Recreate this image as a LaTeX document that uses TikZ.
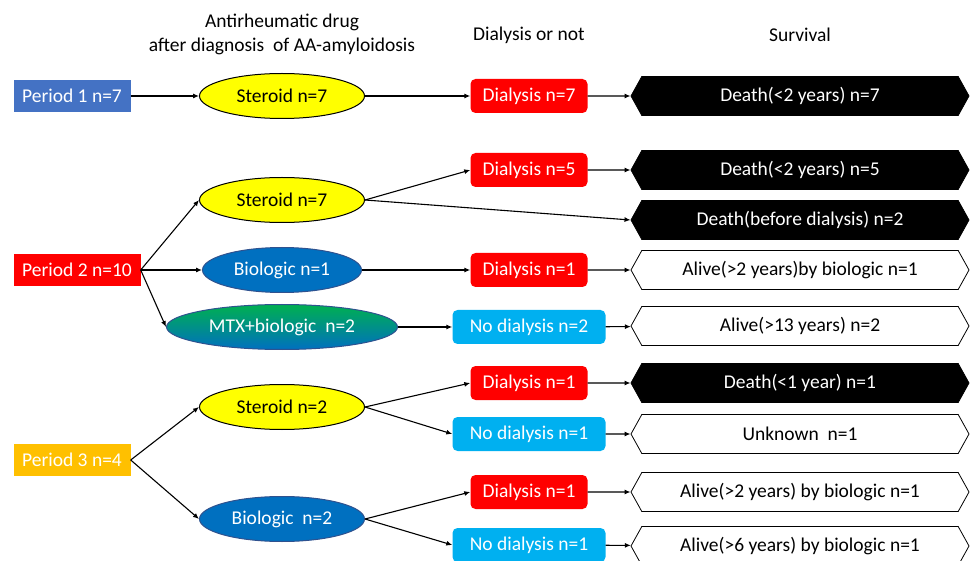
\documentclass[tikz,border=0pt]{standalone}
\usepackage{fontspec}
\setmainfont{Carlito}
\usetikzlibrary{shapes.geometric,shapes.symbols,arrows.meta}
\definecolor{pblue}{HTML}{4472C4}
\definecolor{dred}{HTML}{FF0000}
\definecolor{dyel}{HTML}{FFFF00}
\definecolor{bblue}{HTML}{0070C0}
\definecolor{bline}{HTML}{2F528F}
\definecolor{cyanb}{HTML}{00B0F0}
\definecolor{porange}{HTML}{FFC000}
\definecolor{mgreen}{HTML}{00B050}
\begin{document}
\begin{tikzpicture}[x=1pt,y=-1pt,
  font=\fontsize{19.5}{24}\selectfont,
  period/.style={rectangle, minimum width=117pt, minimum height=32pt, text=white, inner sep=2pt},
  drug/.style={ellipse, minimum width=165pt, minimum height=45pt, draw, line width=1pt, inner sep=0pt},
  biol/.style={drug, fill=bblue, draw=bline, text=white},
  dial/.style={rectangle, rounded corners=5pt, minimum width=117pt, minimum height=34pt, text=white, fill=dred, inner sep=2pt},
  nodial/.style={dial, fill=cyanb, minimum width=153pt},
  surv/.style={signal, signal to=west and east, signal pointer angle=122, minimum width=338pt, minimum height=39pt, draw, line width=0.8pt, inner sep=2pt},
  dead/.style={surv, fill=black, text=white},
  alive/.style={surv, fill=white, text=black},
  arr/.style={-{Latex[length=6pt,width=5pt]}, line width=1.1pt}]
\useasboundingbox (0,0) rectangle (972,561);

% headers
\node[align=center] (h1) at (282,34) {Antirheumatic drug\\after diagnosis~ of AA-amyloidosis};
\node (h2) at (529,35) {Dialysis or not};
\node (h3) at (800,35) {Survival};

% Period 1
\node[period, fill=pblue] (p1) at (72,96) {Period 1 n=7};
\node[drug, fill=dyel] (s1) at (282,96) {Steroid n=7};
\node[dial] (d1) at (529,96) {Dialysis n=7};
\node[dead] (v1) at (800,96) {Death(<2 years) n=7};

% Period 2
\node[period, fill=dred, minimum width=127pt] (p2) at (77,270) {Period 2 n=10};
\node[drug, fill=dyel] (s2) at (282,200) {Steroid n=7};
\node[biol, minimum width=159pt] (b2) at (282,270) {Biologic n=1};
\node[drug, minimum width=231pt, top color=mgreen, bottom color=bblue, draw=bline, text=white] (m2) at (282,327) {MTX+biologic~ n=2};
\node[dial] (d2a) at (529,170) {Dialysis n=5};
\node[dial] (d2b) at (529,270) {Dialysis n=1};
\node[nodial] (n2) at (529,327) {No dialysis n=2};
\node[dead] (v2a) at (800,170) {Death(<2 years) n=5};
\node[dead] (v2b) at (800,220) {Death(before dialysis) n=2};
\node[alive] (v2c) at (800,270) {Alive(>2 years)by biologic n=1};
\node[alive] (v2d) at (800,326) {Alive(>13 years) n=2};

% Period 3
\node[period, fill=porange] (p3) at (72,460) {Period 3 n=4};
\node[drug, fill=dyel] (s3) at (282,407) {Steroid n=2};
\node[biol] (b3) at (282,519) {Biologic~ n=2};
\node[dial] (d3a) at (529,383) {Dialysis n=1};
\node[nodial] (n3a) at (529,434) {No dialysis n=1};
\node[dial] (d3b) at (529,492) {Dialysis n=1};
\node[nodial] (n3b) at (529,545) {No dialysis n=1};
\node[dead] (v3a) at (800,383) {Death(<1 year) n=1};
\node[alive] (v3b) at (800,434) {Unknown~ n=1};
\node[alive] (v3c) at (800,492) {Alive(>2 years) by biologic n=1};
\node[alive] (v3d) at (800,546) {Alive(>6 years) by biologic n=1};

% connectors
\draw[arr] (p1) -- (s1);
\draw[arr] (s1) -- (d1);
\draw[arr] (d1) -- (v1);

\draw[arr] (p2.east) -- (s2.west);
\draw[arr] (p2.east) -- (b2.west);
\draw[arr] (p2.east) -- (m2.west);
\draw[arr] (s2.east) -- (d2a.west);
\draw[arr] (s2.east) -- (v2b.west);
\draw[arr] (b2) -- (d2b);
\draw[arr] (m2) -- (n2);
\draw[arr] (d2a) -- (v2a);
\draw[arr] (d2b) -- (v2c);
\draw[arr] (n2) -- (v2d);

\draw[arr] (p3.east) -- (s3.west);
\draw[arr] (p3.east) -- (b3.west);
\draw[arr] (s3.east) -- (d3a.west);
\draw[arr] (s3.east) -- (n3a.west);
\draw[arr] (b3.east) -- (d3b.west);
\draw[arr] (b3.east) -- (n3b.west);
\draw[arr] (d3a) -- (v3a);
\draw[arr] (n3a) -- (v3b);
\draw[arr] (d3b) -- (v3c);
\draw[arr] (n3b) -- (v3d);
\end{tikzpicture}
\end{document}
